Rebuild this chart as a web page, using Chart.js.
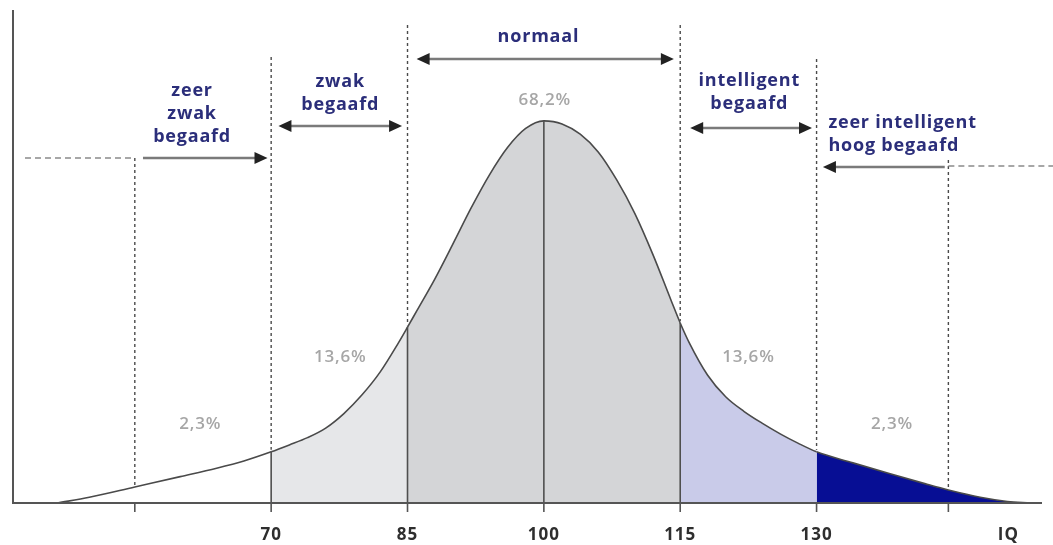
<!DOCTYPE html>
<html>
<head>
<meta charset="utf-8">
<script src="https://cdn.jsdelivr.net/npm/chart.js@4.4.0/dist/chart.umd.min.js"></script>
<style>
  html, body { margin: 0; padding: 0; background: #fff; }
  #wrap { width: 1053px; height: 545px; position: relative; }
</style>
</head>
<body>
<div id="wrap"><canvas id="iq-chart"></canvas></div>
<script>
// IQ values along the curve and the height of the curve there (peak = 100)
const iqValues = [46.5, 50, 55, 60, 64, 67, 70, 72, 74, 76, 78, 80, 82, 84, 85, 86, 88, 90, 92, 94, 96, 98, 100,
    102, 104, 106, 108, 110, 112, 114, 115, 116, 118, 120, 122, 124, 126, 128, 130,
    134, 138, 142, 144.5, 148, 151, 153.5];
const curveHeights = [0, 1.5, 4.2, 6.9, 9.1, 11.0, 13.4, 15.2, 17.1, 19.6, 23.4, 28.3, 34.3, 41.9, 46, 50.2, 58.6, 67.8, 77.2, 85.8, 93.0, 98.0, 100,
    99.2, 96.5, 91.8, 84.6, 75.8, 65, 53, 47.1, 41.9, 33.5, 27.8, 24.0, 20.9, 18.1, 15.6, 13.4,
    10.5, 7.7, 5.0, 3.4, 1.5, 0.4, 0];

// shaded bands: start of each band and its colour
const bandStarts = [70, 85, 115, 130];
const bandColors = ['#e6e7e9', '#d4d5d7', '#c9cbe9', '#070e94'];

// axis ticks
const tickValues = [55, 70, 85, 100, 115, 130, 144.5];
const tickLabels = ['', '70', '85', '100', '115', '130', ''];
const axisTitle = 'IQ';

// share of people in each band
const shareLabels = ['2,3%', '13,6%', '68,2%', '13,6%', '2,3%'];
const sharePositions = [62.2, 77.6, 100.1, 122.5, 138.3];

// group names
const groupNames = [
    ['zeer', 'zwak', 'begaafd'],
    ['zwak', 'begaafd'],
    ['normaal'],
    ['intelligent', 'begaafd'],
    ['zeer intelligent', 'hoog begaafd']
];

const points = iqValues.map((v, i) => ({ x: v, y: curveHeights[i] }));

function bandColor(iq) {
    let color = 'rgba(255,255,255,0)';
    bandStarts.forEach((start, i) => {
        if (iq >= start) color = bandColors[i];
    });
    return color;
}

// Draws the axes, guide lines, arrows and labels
const decorations = {
    id: 'decorations',
    afterDatasetsDraw(chart) {
        const c = chart.ctx;
        const xs = chart.scales.x;
        const ys = chart.scales.y;
        const X = v => xs.getPixelForValue(v);
        const base = ys.getPixelForValue(0);
        const curveTop = iq => {
            const meta = chart.getDatasetMeta(0);
            return meta.data[iqValues.indexOf(iq)].y;
        };

        c.save();

        // solid lines under the curve
        c.strokeStyle = '#4f4f4f';
        c.lineWidth = 1.6;
        [70, 85, 100, 115].forEach(v => {
            c.beginPath();
            c.moveTo(X(v), base);
            c.lineTo(X(v), curveTop(v));
            c.stroke();
        });

        // dashed guide lines above the curve
        const guides = [[55, 158], [70, 57], [85, 25], [115, 25], [130, 59], [144.5, 160]];
        c.setLineDash([3, 3]);
        c.lineWidth = 1.4;
        c.strokeStyle = '#4a4a4a';
        guides.forEach(([v, top]) => {
            c.beginPath();
            c.moveTo(X(v), top);
            c.lineTo(X(v), curveTop(v) - 2);
            c.stroke();
        });

        // horizontal dashed lines at the outer ends
        c.setLineDash([6, 4]);
        c.strokeStyle = '#8a8a8a';
        c.lineWidth = 1.6;
        c.beginPath();
        c.moveTo(25, 158);
        c.lineTo(X(55), 158);
        c.moveTo(X(144.5), 166);
        c.lineTo(1053, 166);
        c.stroke();
        c.setLineDash([]);

        // axes
        c.strokeStyle = '#555';
        c.lineWidth = 2;
        c.beginPath();
        c.moveTo(chart.chartArea.left, chart.chartArea.top);
        c.lineTo(chart.chartArea.left, base);
        c.lineTo(chart.chartArea.right, base);
        c.stroke();

        c.lineWidth = 1.6;
        tickValues.forEach(v => {
            c.beginPath();
            c.moveTo(X(v), base);
            c.lineTo(X(v), base + 9);
            c.stroke();
        });

        // arrows
        function head(x, y, dir) {
            c.fillStyle = '#222';
            c.beginPath();
            c.moveTo(x, y);
            c.lineTo(x - dir * 13, y - 6);
            c.lineTo(x - dir * 13, y + 6);
            c.closePath();
            c.fill();
        }
        const arrows = [
            [55.9, 69.6, 158, false, true],
            [70.8, 84.4, 126, true, true],
            [86, 114.3, 59, true, true],
            [116.1, 129.5, 128, true, true],
            [130.7, 144.1, 167, true, false]
        ];
        arrows.forEach(([a, b, y, left, right]) => {
            c.strokeStyle = '#7a7a7a';
            c.lineWidth = 2.6;
            c.beginPath();
            c.moveTo(X(a) + (left ? 6 : 0), y);
            c.lineTo(X(b) - (right ? 6 : 0), y);
            c.stroke();
            if (left) head(X(a), y, -1);
            if (right) head(X(b), y, 1);
        });

        // group names
        c.fillStyle = '#2b2e7a';
        c.font = 'bold 18px "Open Sans", sans-serif';
        c.letterSpacing = '0.8px';
        c.textBaseline = 'middle';
        const nameSpots = [[61.3, 91], [77.6, 82], [99.4, 37], [122.6, 81], [131.3, 123]];
        groupNames.forEach((lines, i) => {
            const [v, y] = nameSpots[i];
            c.textAlign = i === 4 ? 'left' : 'center';
            lines.forEach((t, j) => c.fillText(t, X(v), y + j * 23));
        });

        // shares
        c.fillStyle = '#a6a6a6';
        c.font = '600 17px "Open Sans", sans-serif';
        c.letterSpacing = '0.8px';
        c.textAlign = 'center';
        const shareY = [424, 357, 100, 357, 424];
        shareLabels.forEach((t, i) => c.fillText(t, X(sharePositions[i]), shareY[i]));

        // tick labels
        c.fillStyle = '#2e2e2e';
        c.font = 'bold 17px "Open Sans", sans-serif';
        c.letterSpacing = '1px';
        tickLabels.forEach((t, i) => {
            if (t) c.fillText(t, X(tickValues[i]), base + 32);
        });
        c.fillText(axisTitle, X(151.1), base + 32);

        c.restore();
    }
};

new Chart(document.getElementById('iq-chart'), {
    type: 'line',
    data: {
        datasets: [{
            data: points,
            borderColor: '#4a4a4a',
            borderWidth: 1.6,
            pointRadius: 0,
            cubicInterpolationMode: 'monotone',
            fill: 'origin',
            backgroundColor: 'rgba(255,255,255,0)',
            segment: {
                backgroundColor: ctx => bandColor(iqValues[ctx.p0DataIndex])
            }
        }]
    },
    options: {
        responsive: true,
        maintainAspectRatio: false,
        animation: false,
        layout: { padding: { left: 13, right: 11, top: 10, bottom: 42 } },
        plugins: {
            legend: { display: false },
            tooltip: { enabled: false }
        },
        scales: {
            x: { type: 'linear', min: 41.6, max: 154.8, display: false },
            y: { min: 0, max: 129, display: false }
        }
    },
    plugins: [decorations]
});
</script>
</body>
</html>
